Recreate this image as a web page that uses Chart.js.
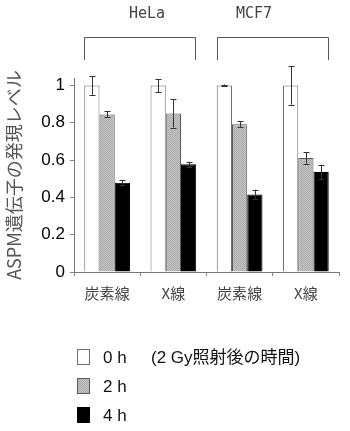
<!DOCTYPE html>
<html>
<head>
  <meta charset="utf-8">
  <script src="https://cdn.jsdelivr.net/npm/chart.js@4.4.1/dist/chart.umd.min.js"></script>
  <style>
    body { margin: 0; background: #fff; }
    #wrap { width: 350px; height: 431px; }
  </style>
</head>
<body>
  <div id="wrap">
    <canvas id="aspmChart" width="350" height="431"></canvas>
  </div>

  <script>
    // categories: radiation type, two per cell line
    const categories = ['炭素線', 'X線', '炭素線', 'X線'];
    const cellLines = ['HeLa', 'MCF7'];
    const timeLabels = ['0 h', '2 h', '4 h'];

    // relative ASPM expression after 2 Gy
    const expr0h = [1.0, 1.0, 1.0, 1.0];
    const expr2h = [0.845, 0.85, 0.792, 0.611];
    const expr4h = [0.479, 0.577, 0.416, 0.536];

    // standard deviation
    const err0h = [0.05, 0.035, 0.005, 0.103];
    const err2h = [0.016, 0.076, 0.017, 0.03];
    const err4h = [0.015, 0.014, 0.025, 0.04];

    const yTicks = [0, 0.2, 0.4, 0.6, 0.8, 1];

    // speckled light grey used for the 2 h bars
    function greyPattern() {
      const c = document.createElement('canvas');
      c.width = 2;
      c.height = 2;
      const g = c.getContext('2d');
      g.fillStyle = '#c4c4c4';
      g.fillRect(0, 0, 2, 2);
      g.fillStyle = '#ababab';
      g.fillRect(0, 0, 1, 1);
      g.fillRect(1, 1, 1, 1);
      return g.createPattern(c, 'repeat');
    }
    const grey = greyPattern();

    const fills = ['#ffffff', grey, '#000000'];
    const borders = ['#6e6e6e', '#5a5a5a', '#000000'];
    const errors = [err0h, err2h, err4h];

    const errorBars = {
      id: 'errorBars',
      afterDatasetsDraw(chart) {
        const ctx = chart.ctx;
        const y = chart.scales.y;
        ctx.save();
        ctx.strokeStyle = '#333';
        ctx.lineWidth = 1;
        chart.data.datasets.forEach((ds, i) => {
          chart.getDatasetMeta(i).data.forEach((bar, j) => {
            const v = ds.data[j];
            const e = errors[i][j];
            const x = Math.round(bar.x) + 0.5;
            const top = y.getPixelForValue(v + e);
            const bot = y.getPixelForValue(v - e);
            ctx.beginPath();
            ctx.moveTo(x, top);
            ctx.lineTo(x, bot);
            ctx.moveTo(x - 3, Math.round(top) + 0.5);
            ctx.lineTo(x + 3, Math.round(top) + 0.5);
            ctx.moveTo(x - 3, Math.round(bot) + 0.5);
            ctx.lineTo(x + 3, Math.round(bot) + 0.5);
            ctx.stroke();
          });
        });
        ctx.restore();
      }
    };

    // brackets over each cell line and the legend below the axis
    const decorations = {
      id: 'decorations',
      afterDraw(chart) {
        const ctx = chart.ctx;
        const bars = chart.getDatasetMeta(0).data;
        const last = chart.getDatasetMeta(2).data;
        const labelShift = [7, -19];
        ctx.save();
        ctx.strokeStyle = '#555';
        ctx.lineWidth = 1;
        ctx.fillStyle = '#444';
        ctx.font = '15px "DejaVu Sans Mono"';
        ctx.textAlign = 'center';
        ctx.textBaseline = 'middle';
        cellLines.forEach((name, k) => {
          const a = bars[k * 2];
          const b = last[k * 2 + 1];
          const x1 = Math.round(a.x - a.width / 2) + 0.5;
          const x2 = Math.round(b.x + b.width / 2) - 0.5;
          ctx.beginPath();
          ctx.moveTo(x1, 60);
          ctx.lineTo(x1, 37.5);
          ctx.lineTo(x2, 37.5);
          ctx.lineTo(x2, 60);
          ctx.stroke();
          ctx.fillText(name, (x1 + x2) / 2 + labelShift[k], 14);
        });

        // legend
        const rowY = [357, 386, 415];
        ctx.textAlign = 'left';
        ctx.font = '17px "Liberation Sans", "Noto Sans CJK JP"';
        ctx.fillStyle = '#111';
        chart.data.datasets.forEach((ds, i) => {
          ctx.fillStyle = fills[i];
          ctx.fillRect(77, rowY[i] - 8, 13, 16);
          ctx.strokeStyle = borders[i];
          ctx.strokeRect(77.5, rowY[i] - 7.5, 12, 15);
          ctx.fillStyle = '#111';
          ctx.fillText(ds.label, 103, rowY[i] + 1);
        });
        ctx.fillText('(2 Gy照射後の時間)', 151, rowY[0] + 1);
        ctx.restore();
      }
    };

    const datasets = [expr0h, expr2h, expr4h].map((d, i) => ({
      label: timeLabels[i],
      data: d,
      backgroundColor: fills[i],
      borderColor: borders[i],
      borderWidth: 1,
      barPercentage: 1,
      categoryPercentage: 0.69
    }));

    new Chart(document.getElementById('aspmChart'), {
      type: 'bar',
      data: { labels: categories, datasets: datasets },
      plugins: [errorBars, decorations],
      options: {
        responsive: false,
        animation: false,
        layout: { padding: { top: 78, right: 11, left: 0, bottom: 0 } },
        plugins: {
          legend: { display: false },
          tooltip: { enabled: false }
        },
        scales: {
          x: {
            grid: { display: true, drawOnChartArea: false, tickLength: 4, color: '#888' },
            border: { color: '#777' },
            ticks: {
              color: '#444',
              padding: 8,
              font: { family: '"Noto Sans CJK JP"', size: 15 }
            },
            afterFit(scale) { scale.height = 159; }
          },
          y: {
            min: 0,
            max: 1.04,
            grid: { display: true, drawOnChartArea: false, tickLength: 4, color: '#888' },
            border: { color: '#777' },
            afterBuildTicks(scale) {
              scale.ticks = yTicks.map(v => ({ value: v }));
            },
            ticks: {
              color: '#000',
              padding: 5,
              font: { family: '"Liberation Sans"', size: 17 },
              callback: v => String(v)
            },
            title: {
              display: true,
              text: 'ASPM遺伝子の発現レベル',
              color: '#555',
              padding: { top: 3, bottom: 0 },
              font: { family: '"Noto Sans CJK JP"', size: 18 }
            },
            afterFit(scale) { scale.width = 74; }
          }
        }
      }
    });
  </script>
</body>
</html>
